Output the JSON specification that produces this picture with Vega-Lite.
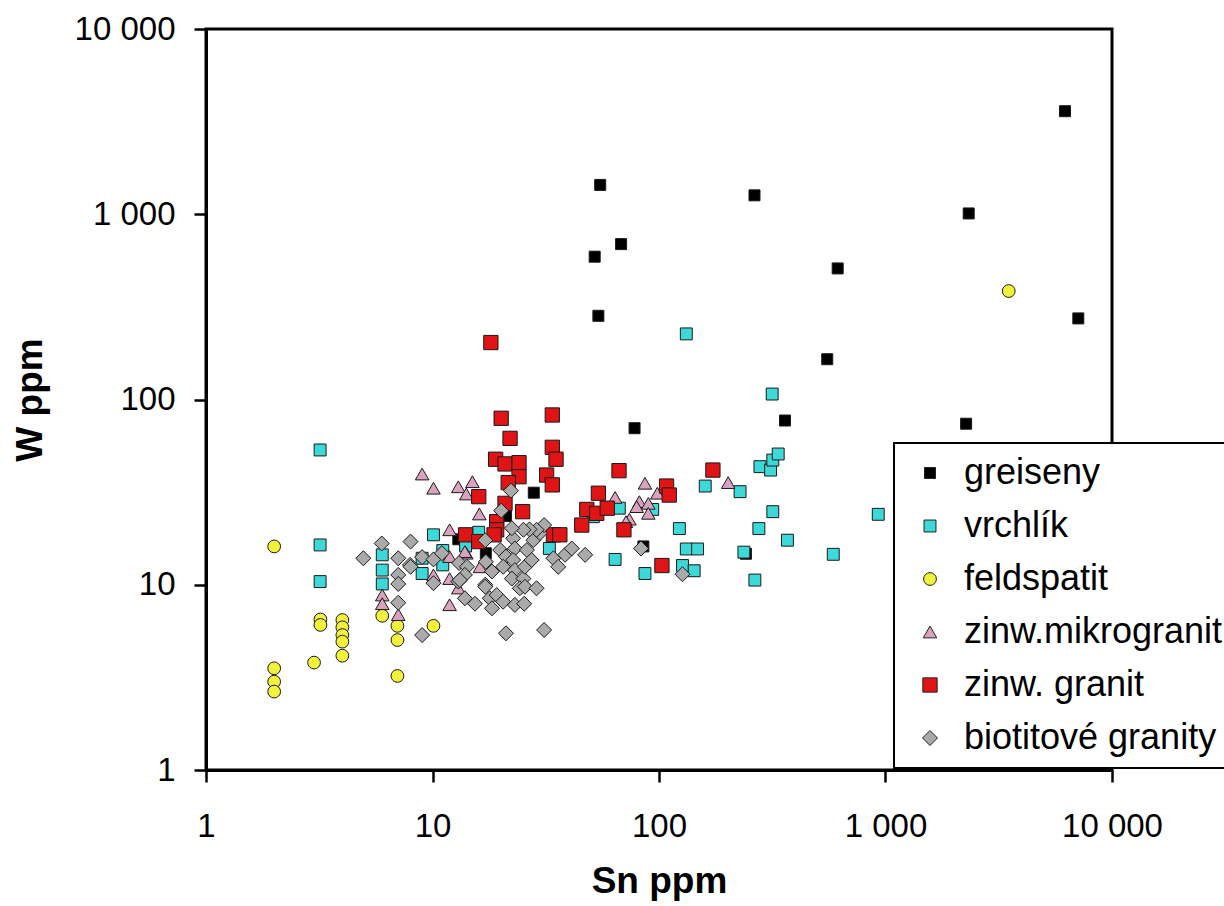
{
  "$schema": "https://vega.github.io/schema/vega-lite/v6.json",
  "width": 906,
  "height": 741,
  "autosize": {"type": "none"},
  "padding": {"left": 206, "top": 29, "right": 112, "bottom": 136},
  "background": "#ffffff",
  "datasets": {
    "pts": [
      {"g":"greiseny","sn":55,"w":1440},{"g":"greiseny","sn":264,"w":1265},{"g":"greiseny","sn":2330,"w":1010},{"g":"greiseny","sn":6200,"w":3600},{"g":"greiseny","sn":68,"w":690},{"g":"greiseny","sn":52,"w":590},{"g":"greiseny","sn":615,"w":510},{"g":"greiseny","sn":54,"w":283},{"g":"greiseny","sn":7100,"w":274},{"g":"greiseny","sn":553,"w":165},{"g":"greiseny","sn":360,"w":77},{"g":"greiseny","sn":2270,"w":74},{"g":"greiseny","sn":78,"w":70},{"g":"greiseny","sn":28,"w":31.4},{"g":"greiseny","sn":21.1,"w":23.5},{"g":"greiseny","sn":13,"w":17.6},{"g":"greiseny","sn":17.2,"w":14.8},{"g":"greiseny","sn":85.3,"w":16.1},{"g":"greiseny","sn":242,"w":14.7},
      {"g":"vrchlík","sn":3.19,"w":53.4},{"g":"vrchlík","sn":3.19,"w":16.4},{"g":"vrchlík","sn":3.19,"w":10.4},{"g":"vrchlík","sn":6,"w":14.5},{"g":"vrchlík","sn":6,"w":12},{"g":"vrchlík","sn":6,"w":10.1},{"g":"vrchlík","sn":9,"w":13.9},{"g":"vrchlík","sn":9,"w":11.5},{"g":"vrchlík","sn":10.1,"w":18.6},{"g":"vrchlík","sn":11.1,"w":15.3},{"g":"vrchlík","sn":11.1,"w":12.8},{"g":"vrchlík","sn":16,"w":19.2},{"g":"vrchlík","sn":14,"w":16.2},{"g":"vrchlík","sn":32.8,"w":15.7},{"g":"vrchlík","sn":51.3,"w":23.3},{"g":"vrchlík","sn":66.8,"w":25.9},{"g":"vrchlík","sn":93.8,"w":25.5},{"g":"vrchlík","sn":64,"w":13.7},{"g":"vrchlík","sn":86.7,"w":11.5},{"g":"vrchlík","sn":123,"w":20.1},{"g":"vrchlík","sn":127,"w":12.7},{"g":"vrchlík","sn":143,"w":11.9},{"g":"vrchlík","sn":132,"w":15.6},{"g":"vrchlík","sn":148,"w":15.6},{"g":"vrchlík","sn":160,"w":34.1},{"g":"vrchlík","sn":228,"w":31.8},{"g":"vrchlík","sn":237,"w":15},{"g":"vrchlík","sn":265,"w":10.6},{"g":"vrchlík","sn":276,"w":20.1},{"g":"vrchlík","sn":318,"w":24.8},{"g":"vrchlík","sn":369,"w":17.4},{"g":"vrchlík","sn":279,"w":43.4},{"g":"vrchlík","sn":311,"w":41.6},{"g":"vrchlík","sn":318,"w":47.1},{"g":"vrchlík","sn":336,"w":50.8},{"g":"vrchlík","sn":588,"w":14.6},{"g":"vrchlík","sn":929,"w":24},{"g":"vrchlík","sn":132,"w":226},{"g":"vrchlík","sn":316,"w":107},
      {"g":"feldspatit","sn":2,"w":16.1},{"g":"feldspatit","sn":6,"w":6.8},{"g":"feldspatit","sn":7,"w":6},{"g":"feldspatit","sn":7,"w":5.03},{"g":"feldspatit","sn":7,"w":3.22},{"g":"feldspatit","sn":2,"w":3.54},{"g":"feldspatit","sn":2,"w":3.0},{"g":"feldspatit","sn":2,"w":2.65},{"g":"feldspatit","sn":3,"w":3.8},{"g":"feldspatit","sn":3.2,"w":6.5},{"g":"feldspatit","sn":3.2,"w":6.07},{"g":"feldspatit","sn":4,"w":6.45},{"g":"feldspatit","sn":4,"w":5.89},{"g":"feldspatit","sn":4,"w":5.35},{"g":"feldspatit","sn":4,"w":4.93},{"g":"feldspatit","sn":4,"w":4.14},{"g":"feldspatit","sn":10.1,"w":6},{"g":"feldspatit","sn":3500,"w":385},
      {"g":"zinw.mikrogranit","sn":9,"w":39.6},{"g":"zinw.mikrogranit","sn":10.1,"w":33.2},{"g":"zinw.mikrogranit","sn":13,"w":33.8},{"g":"zinw.mikrogranit","sn":15,"w":36},{"g":"zinw.mikrogranit","sn":14.1,"w":30.9},{"g":"zinw.mikrogranit","sn":16.1,"w":24.1},{"g":"zinw.mikrogranit","sn":11.9,"w":19.8},{"g":"zinw.mikrogranit","sn":11.9,"w":14.2},{"g":"zinw.mikrogranit","sn":10.1,"w":11.3},{"g":"zinw.mikrogranit","sn":11.9,"w":10.8},{"g":"zinw.mikrogranit","sn":13,"w":9.6},{"g":"zinw.mikrogranit","sn":11.9,"w":7.8},{"g":"zinw.mikrogranit","sn":16.2,"w":12.5},{"g":"zinw.mikrogranit","sn":14.1,"w":14.8},{"g":"zinw.mikrogranit","sn":13.9,"w":15.1},{"g":"zinw.mikrogranit","sn":6,"w":8.8},{"g":"zinw.mikrogranit","sn":6,"w":7.9},{"g":"zinw.mikrogranit","sn":7.06,"w":6.9},{"g":"zinw.mikrogranit","sn":202,"w":35.6},{"g":"zinw.mikrogranit","sn":86.7,"w":35.3},{"g":"zinw.mikrogranit","sn":98.3,"w":31.2},{"g":"zinw.mikrogranit","sn":64,"w":29.6},{"g":"zinw.mikrogranit","sn":81.9,"w":28.1},{"g":"zinw.mikrogranit","sn":89.7,"w":27.5},{"g":"zinw.mikrogranit","sn":79.7,"w":26.4},{"g":"zinw.mikrogranit","sn":89.7,"w":24.3},{"g":"zinw.mikrogranit","sn":74,"w":22.6},{"g":"zinw.mikrogranit","sn":71.5,"w":21.9},
      {"g":"zinw. granit","sn":18.1,"w":203},{"g":"zinw. granit","sn":20.1,"w":79.2},{"g":"zinw. granit","sn":33.8,"w":82.5},{"g":"zinw. granit","sn":22,"w":61.7},{"g":"zinw. granit","sn":33.8,"w":55.2},{"g":"zinw. granit","sn":35.1,"w":47.6},{"g":"zinw. granit","sn":19,"w":47.6},{"g":"zinw. granit","sn":20.9,"w":44.9},{"g":"zinw. granit","sn":24.1,"w":45.6},{"g":"zinw. granit","sn":24.1,"w":38.3},{"g":"zinw. granit","sn":21.6,"w":35.6},{"g":"zinw. granit","sn":31.9,"w":39.1},{"g":"zinw. granit","sn":33.8,"w":34.6},{"g":"zinw. granit","sn":16,"w":29.9},{"g":"zinw. granit","sn":20.9,"w":27.5},{"g":"zinw. granit","sn":25,"w":24.8},{"g":"zinw. granit","sn":19.2,"w":21.9},{"g":"zinw. granit","sn":19.2,"w":19.8},{"g":"zinw. granit","sn":18.7,"w":18.6},{"g":"zinw. granit","sn":14,"w":18.6},{"g":"zinw. granit","sn":16,"w":17.1},{"g":"zinw. granit","sn":34.2,"w":18.6},{"g":"zinw. granit","sn":36.5,"w":18.6},{"g":"zinw. granit","sn":45.6,"w":21},{"g":"zinw. granit","sn":48,"w":25.5},{"g":"zinw. granit","sn":53.1,"w":24.3},{"g":"zinw. granit","sn":54,"w":31.2},{"g":"zinw. granit","sn":59.1,"w":25.9},{"g":"zinw. granit","sn":66.6,"w":41.3},{"g":"zinw. granit","sn":70,"w":19.8},{"g":"zinw. granit","sn":108,"w":34.1},{"g":"zinw. granit","sn":111,"w":30.5},{"g":"zinw. granit","sn":103,"w":12.7},{"g":"zinw. granit","sn":173,"w":41.6},
      {"g":"biotitové granity","sn":4.95,"w":13.9},{"g":"biotitové granity","sn":5.97,"w":16.7},{"g":"biotitové granity","sn":7.06,"w":13.9},{"g":"biotitové granity","sn":7.06,"w":11.3},{"g":"biotitové granity","sn":7.06,"w":10.1},{"g":"biotitové granity","sn":7.06,"w":8},{"g":"biotitové granity","sn":8,"w":17.1},{"g":"biotitové granity","sn":7.96,"w":12.8},{"g":"biotitové granity","sn":9,"w":14.1},{"g":"biotitové granity","sn":8,"w":12.5},{"g":"biotitové granity","sn":10.1,"w":13.7},{"g":"biotitové granity","sn":10.1,"w":10.2},{"g":"biotitové granity","sn":11,"w":14.8},{"g":"biotitové granity","sn":13.1,"w":13.1},{"g":"biotitové granity","sn":14.2,"w":12.5},{"g":"biotitové granity","sn":13.9,"w":11.3},{"g":"biotitové granity","sn":13,"w":10.4},{"g":"biotitové granity","sn":13.2,"w":10.6},{"g":"biotitové granity","sn":15.4,"w":7.9},{"g":"biotitové granity","sn":13.9,"w":8.45},{"g":"biotitové granity","sn":17.1,"w":17.4},{"g":"biotitové granity","sn":17.2,"w":13.3},{"g":"biotitové granity","sn":18.3,"w":11.8},{"g":"biotitové granity","sn":17.1,"w":10},{"g":"biotitové granity","sn":17.9,"w":8.45},{"g":"biotitové granity","sn":19.2,"w":8.8},{"g":"biotitové granity","sn":20.5,"w":8.1},{"g":"biotitové granity","sn":18.3,"w":7.46},{"g":"biotitové granity","sn":19.9,"w":15.4},{"g":"biotitové granity","sn":21.1,"w":14.2},{"g":"biotitové granity","sn":20.5,"w":12.5},{"g":"biotitové granity","sn":22.7,"w":17.8},{"g":"biotitové granity","sn":23.1,"w":15.7},{"g":"biotitové granity","sn":22.7,"w":13.6},{"g":"biotitové granity","sn":23.1,"w":12},{"g":"biotitové granity","sn":22.4,"w":10.8},{"g":"biotitové granity","sn":25.2,"w":10.8},{"g":"biotitové granity","sn":24.3,"w":9.57},{"g":"biotitové granity","sn":26.1,"w":15.4},{"g":"biotitové granity","sn":25.6,"w":12.5},{"g":"biotitové granity","sn":25.6,"w":9.76},{"g":"biotitové granity","sn":23.1,"w":7.78},{"g":"biotitové granity","sn":25.4,"w":7.9},{"g":"biotitové granity","sn":28.8,"w":9.57},{"g":"biotitové granity","sn":27.9,"w":17.4},{"g":"biotitové granity","sn":29.8,"w":19},{"g":"biotitové granity","sn":27.4,"w":13.6},{"g":"biotitové granity","sn":34.2,"w":13.9},{"g":"biotitové granity","sn":35.9,"w":12.5},{"g":"biotitové granity","sn":38.5,"w":14.5},{"g":"biotitové granity","sn":41.2,"w":15.7},{"g":"biotitové granity","sn":47.2,"w":14.5},{"g":"biotitové granity","sn":9,"w":5.35},{"g":"biotitové granity","sn":21.1,"w":5.47},{"g":"biotitové granity","sn":31.1,"w":5.7},{"g":"biotitové granity","sn":83.3,"w":15.7},{"g":"biotitové granity","sn":127,"w":11.4},{"g":"biotitové granity","sn":22.2,"w":32.2},{"g":"biotitové granity","sn":20.1,"w":25.1},{"g":"biotitové granity","sn":31.1,"w":21},{"g":"biotitové granity","sn":28.8,"w":19.8},{"g":"biotitové granity","sn":26.8,"w":19.9},{"g":"biotitové granity","sn":25.2,"w":19.8},{"g":"biotitové granity","sn":22.4,"w":20.2},{"g":"biotitové granity","sn":17.1,"w":9.76}
    ]
  },
  "data": {"name": "pts"},
  "mark": {"type": "point", "filled": true, "opacity": 1, "stroke": "#1a1a1a", "strokeWidth": 1},
  "encoding": {
    "x": {
      "field": "sn", "type": "quantitative",
      "scale": {"type": "log", "domain": [1, 10000], "nice": false},
      "axis": {"values": [1, 10, 100, 1000, 10000], "title": "Sn ppm", "labelPadding": 28, "titlePadding": 20, "labelFlush": false, "labelOverlap": false,
               "labelExpr": "replace(format(datum.value, ','), ',', ' ')"}
    },
    "y": {
      "field": "w", "type": "quantitative",
      "scale": {"type": "log", "domain": [1, 10000], "nice": false},
      "axis": {"values": [1, 10, 100, 1000, 10000], "title": "W ppm", "labelPadding": 19, "titlePadding": 25, "labelFlush": false, "labelOverlap": false,
               "labelExpr": "replace(format(datum.value, ','), ',', ' ')"}
    },
    "color": {
      "field": "g", "type": "nominal",
      "scale": {"domain": ["greiseny", "vrchlík", "feldspatit", "zinw.mikrogranit", "zinw. granit", "biotitové granity"],
                "range": ["#000000", "#3dd8d8", "#f2f23a", "#d9a3bf", "#e01414", "#aaaaaa"]},
      "legend": {"title": null, "orient": "none", "legendX": 688, "legendY": 414, "zindex": 2}
    },
    "shape": {
      "field": "g", "type": "nominal",
      "scale": {"domain": ["greiseny", "vrchlík", "feldspatit", "zinw.mikrogranit", "zinw. granit", "biotitové granity"],
                "range": ["square", "square", "circle", "triangle-up", "square", "diamond"]},
      "legend": {"title": null, "orient": "none", "legendX": 688, "legendY": 414, "zindex": 2}
    },
    "size": {
      "field": "g", "type": "nominal",
      "scale": {"domain": ["greiseny", "vrchlík", "feldspatit", "zinw.mikrogranit", "zinw. granit", "biotitové granity"],
                "range": [121, 225, 169, 300, 256, 256]},
      "legend": null
    }
  },
  "config": {
    "view": {"stroke": "#000000", "strokeWidth": 3},
    "axis": {
      "grid": false, "domainColor": "#000000", "domainWidth": 3, "tickColor": "#000000", "tickWidth": 2.5, "tickSize": 12,
      "labelFont": "Liberation Sans", "labelFontSize": 33, "labelColor": "#000000",
      "titleFont": "Liberation Sans", "titleFontSize": 37, "titleFontWeight": "bold", "titleColor": "#000000"
    },
    "legend": {
      "padding": 12, "strokeColor": "#000000", "strokeWidth": 2, "fillColor": "#ffffff",
      "labelFont": "Liberation Sans", "labelFontSize": 36, "labelColor": "#000000", "labelLimit": 400,
      "symbolSize": 64, "symbolStrokeColor": "#222222", "symbolStrokeWidth": 1,
      "rowPadding": 17, "labelOffset": 16, "symbolOffset": 6
    }
  }
}
